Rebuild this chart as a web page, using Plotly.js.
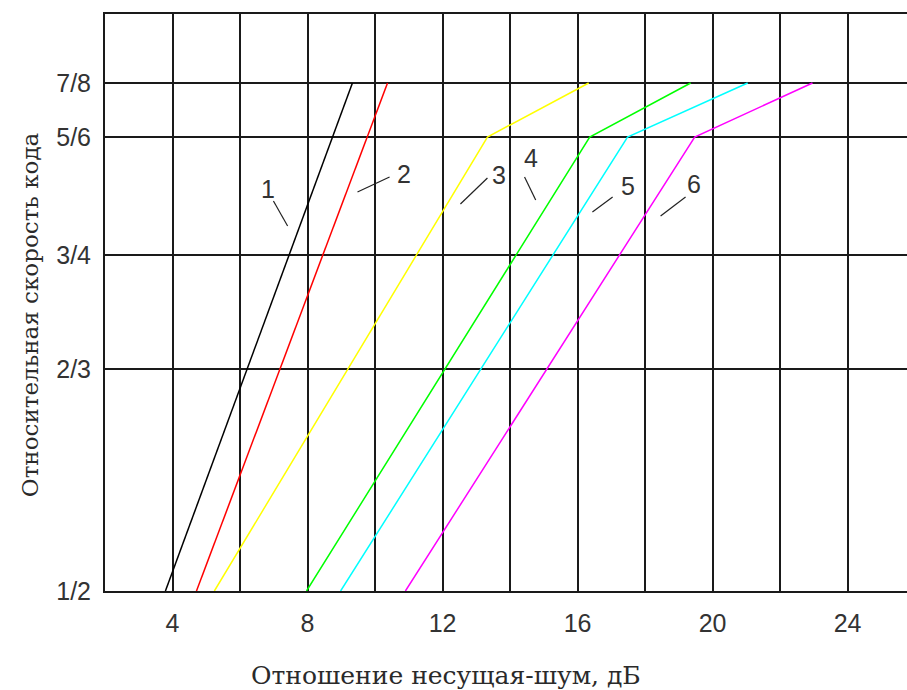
<!DOCTYPE html>
<html>
<head>
<meta charset="utf-8">
<script src="https://cdn.plot.ly/plotly-3.0.1.min.js"></script>
<style>html,body{margin:0;padding:0;background:#fff;}</style>
</head>
<body>
<div id="chart" style="width:907px;height:690px;"></div>
<script>
// Code-rate labels and their positions on the chart's (non-linear) vertical scale
const rateLabels = ['1/2', '2/3', '3/4', '5/6', '7/8'];
const rateAxis = [0, 222, 336, 454, 508];

// Curve names, carrier-to-noise ratio (dB) and code rate of each vertex
const curveNames = ['1', '2', '3', '4', '5', '6'];
const snr1 = [3.79, 9.33];          const rate1 = ['1/2', '7/8'];
const snr2 = [4.71, 10.37];         const rate2 = ['1/2', '7/8'];
const snr3 = [5.24, 13.33, 16.33];  const rate3 = ['1/2', '5/6', '7/8'];
const snr4 = [7.97, 16.36, 19.35];  const rate4 = ['1/2', '5/6', '7/8'];
const snr5 = [8.98, 17.48, 21.04];  const rate5 = ['1/2', '5/6', '7/8'];
const snr6 = [10.9, 19.47, 22.96];  const rate6 = ['1/2', '5/6', '7/8'];
const curveColors = ['#000000', '#ff0000', '#ffff00', '#00ff00', '#00ffff', '#ff00ff'];

const xTitle = 'Отношение несущая-шум, дБ';
const yTitle = 'Относительная скорость кода';

const toAxis = r => rateAxis[rateLabels.indexOf(r)];
const snrs = [snr1, snr2, snr3, snr4, snr5, snr6];
const rates = [rate1, rate2, rate3, rate4, rate5, rate6];

const traces = snrs.map((s, i) => ({
  type: 'scatter', mode: 'lines',
  x: s, y: rates[i].map(toAxis),
  name: curveNames[i],
  line: {color: curveColors[i], width: 1.5},
  showlegend: false, hoverinfo: 'skip'
}));

const labelFont = {family: 'Liberation Sans, Arial, sans-serif', size: 25, color: '#333'};
const titleFont = {family: 'DejaVu Serif, serif', size: 25, color: '#2a2a2a'};
const yTitleFont = {family: 'DejaVu Serif, serif', size: 23, color: '#2a2a2a'};
const gridC = '#1a1a1a';

// curve labels (text position) and their leader lines (start, end)
const labelPos = [[6.84, 402], [10.87, 417], [13.66, 416], [14.61, 433], [17.48, 405], [19.44, 407]];
const leaders = [
  [6.99, 390, 7.41, 365],
  [9.48, 399, 10.43, 414],
  [12.53, 387, 13.33, 413],
  [14.43, 414, 14.76, 391],
  [16.44, 379, 17.04, 394],
  [18.46, 375, 19.2, 394]
];

const annotations = curveNames.map((n, i) => ({
  x: labelPos[i][0], y: labelPos[i][1], xref: 'x', yref: 'y',
  text: n, showarrow: false, font: labelFont,
  xanchor: 'center', yanchor: 'middle'
}));
// axis titles
annotations.push({
  x: 0.425, y: -0.147, xref: 'paper', yref: 'paper',
  text: xTitle, showarrow: false, font: titleFont,
  xanchor: 'center', yanchor: 'middle'
});
annotations.push({
  x: -0.0935, y: 0.478, xref: 'paper', yref: 'paper',
  text: yTitle, showarrow: false, font: yTitleFont, textangle: -90,
  xanchor: 'center', yanchor: 'middle'
});

const shapes = leaders.map(l => ({
  type: 'line', xref: 'x', yref: 'y',
  x0: l[0], y0: l[1], x1: l[2], y1: l[3],
  line: {color: '#222', width: 1.2}
}));

const layout = {
  width: 907, height: 690,
  margin: {l: 105, r: 0, t: 14, b: 99},
  paper_bgcolor: '#ffffff', plot_bgcolor: '#ffffff',
  showlegend: false,
  xaxis: {
    range: [2, 25.76], tick0: 0, dtick: 4,
    showgrid: true, gridcolor: gridC, gridwidth: 2,
    minor: {dtick: 2, tick0: 0, showgrid: true, gridcolor: gridC, gridwidth: 2},
    showline: true, linecolor: gridC, linewidth: 2, mirror: true,
    ticks: '', zeroline: false,
    tickfont: labelFont, ticklabelstandoff: 9
  },
  yaxis: {
    range: [0, 577],
    tickmode: 'array', tickvals: rateAxis, ticktext: rateLabels,
    showgrid: true, gridcolor: gridC, gridwidth: 2,
    showline: true, linecolor: gridC, linewidth: 2, mirror: false,
    ticks: '', zeroline: false,
    tickfont: labelFont, ticklabelstandoff: 7
  },
  annotations: annotations,
  shapes: shapes
};

Plotly.newPlot('chart', traces, layout, {displayModeBar: false, staticPlot: true});
</script>
</body>
</html>
